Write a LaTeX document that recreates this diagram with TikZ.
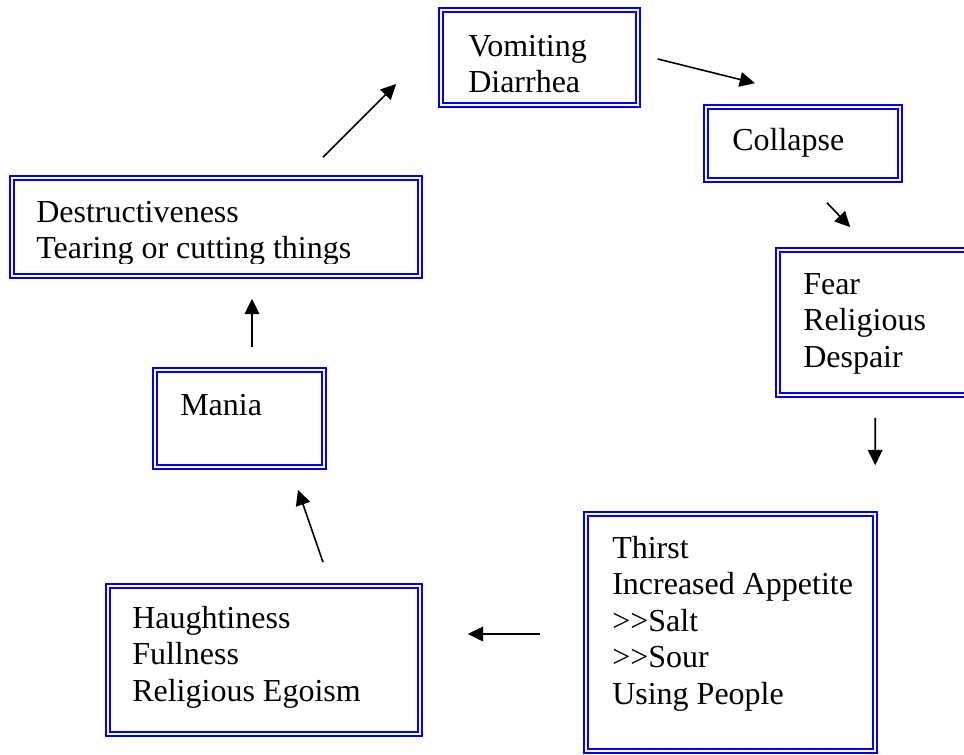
\documentclass[tikz,border=0pt]{standalone}
\usepackage{fontspec}
\setmainfont{Liberation Serif}
\usepackage{tikz}
\usetikzlibrary{positioning, arrows.meta}
\newcommand{\boxtext}[1]{\begin{tabular}[t]{@{}l@{}}#1\end{tabular}}
\tikzset{
  frame/.style 2 args={draw=blue, double=white, line width=1.65pt, double distance=1.5pt,
    inner sep=0pt, outer sep=0pt, anchor=north west,
    minimum width=#1*0.75pt-4.8pt, minimum height=#2*0.75pt-4.8pt},
  txt/.style={inner sep=0pt, anchor=base west, font=\fontsize{24}{27.45}\selectfont},
  flow/.style={-{Triangle[length=11.5pt,width=11pt]}, line width=1.2pt}
}
\begin{document}
\begin{tikzpicture}[x=0.75pt, y=-0.75pt]
\useasboundingbox (0,0) rectangle (964,754);
% frames
\node[frame={203}{101}] (vomit) at (441.2,10.2) {};
\node[frame={200}{79}] (collapse) at (706.2,107.2) {};
\node[frame={200}{151}] (fear) at (778.2,250.2) {};
\node[frame={295}{243}] (thirst) at (586.2,514.2) {};
\node[frame={318}{154}] (haught) at (108.2,586.2) {};
\node[frame={175}{103}] (mania) at (155.2,370.2) {};
\node[frame={414}{104}] (destr) at (12.2,178.2) {};
% texts
\node[txt] (vomitT) at (468,56) {\boxtext{Vomiting\\Diarrhea}};
\node[txt] (collapseT) at (732,150) {Collapse};
\node[txt] (fearT) at (803,294) {\boxtext{Fear\\Religious\\Despair}};
\node[txt] (thirstT) at (612,558) {\boxtext{Thirst\\Increased Appetite\\>{}>Salt\\>{}>Sour\\Using People}};
\node[txt] (haughtT) at (132,628) {\boxtext{Haughtiness\\Fullness\\Religious Egoism}};
\node[txt] (maniaT) at (180,415) {Mania};
\begin{scope}
\clip (12,178) rectangle (420,263);
\node[txt] (destrT) at (36,222) {\boxtext{Destructiveness\\Tearing or cutting things}};
\end{scope}
% arrows
\draw[flow] ([shift={(107,-21)}]destr.north) -- ([shift={(-45,26.5)}]vomit.west);
\draw[flow] ([shift={(20,1.5)}]vomit.east) -- ([shift={(-48,-24)}]collapse.north);
\draw[flow] ([shift={(24,23)}]collapse.south) -- ([shift={(72,-23)}]fear.north west);
\draw[flow] ([shift={(97,23)}]fear.south west) -- ([shift={(0.4,-49)}]thirst.north east);
\draw[flow] ([shift={(-46,1.5)}]thirst.west) -- ([shift={(48,-26)}]haught.east);
\draw[flow] ([shift={(59,-24)}]haught.north) -- ([shift={(58.5,23)}]mania.south);
\draw[flow] ([shift={(12.5,-23)}]mania.north) -- ([shift={(36,23)}]destr.south);
\end{tikzpicture}
\end{document}
